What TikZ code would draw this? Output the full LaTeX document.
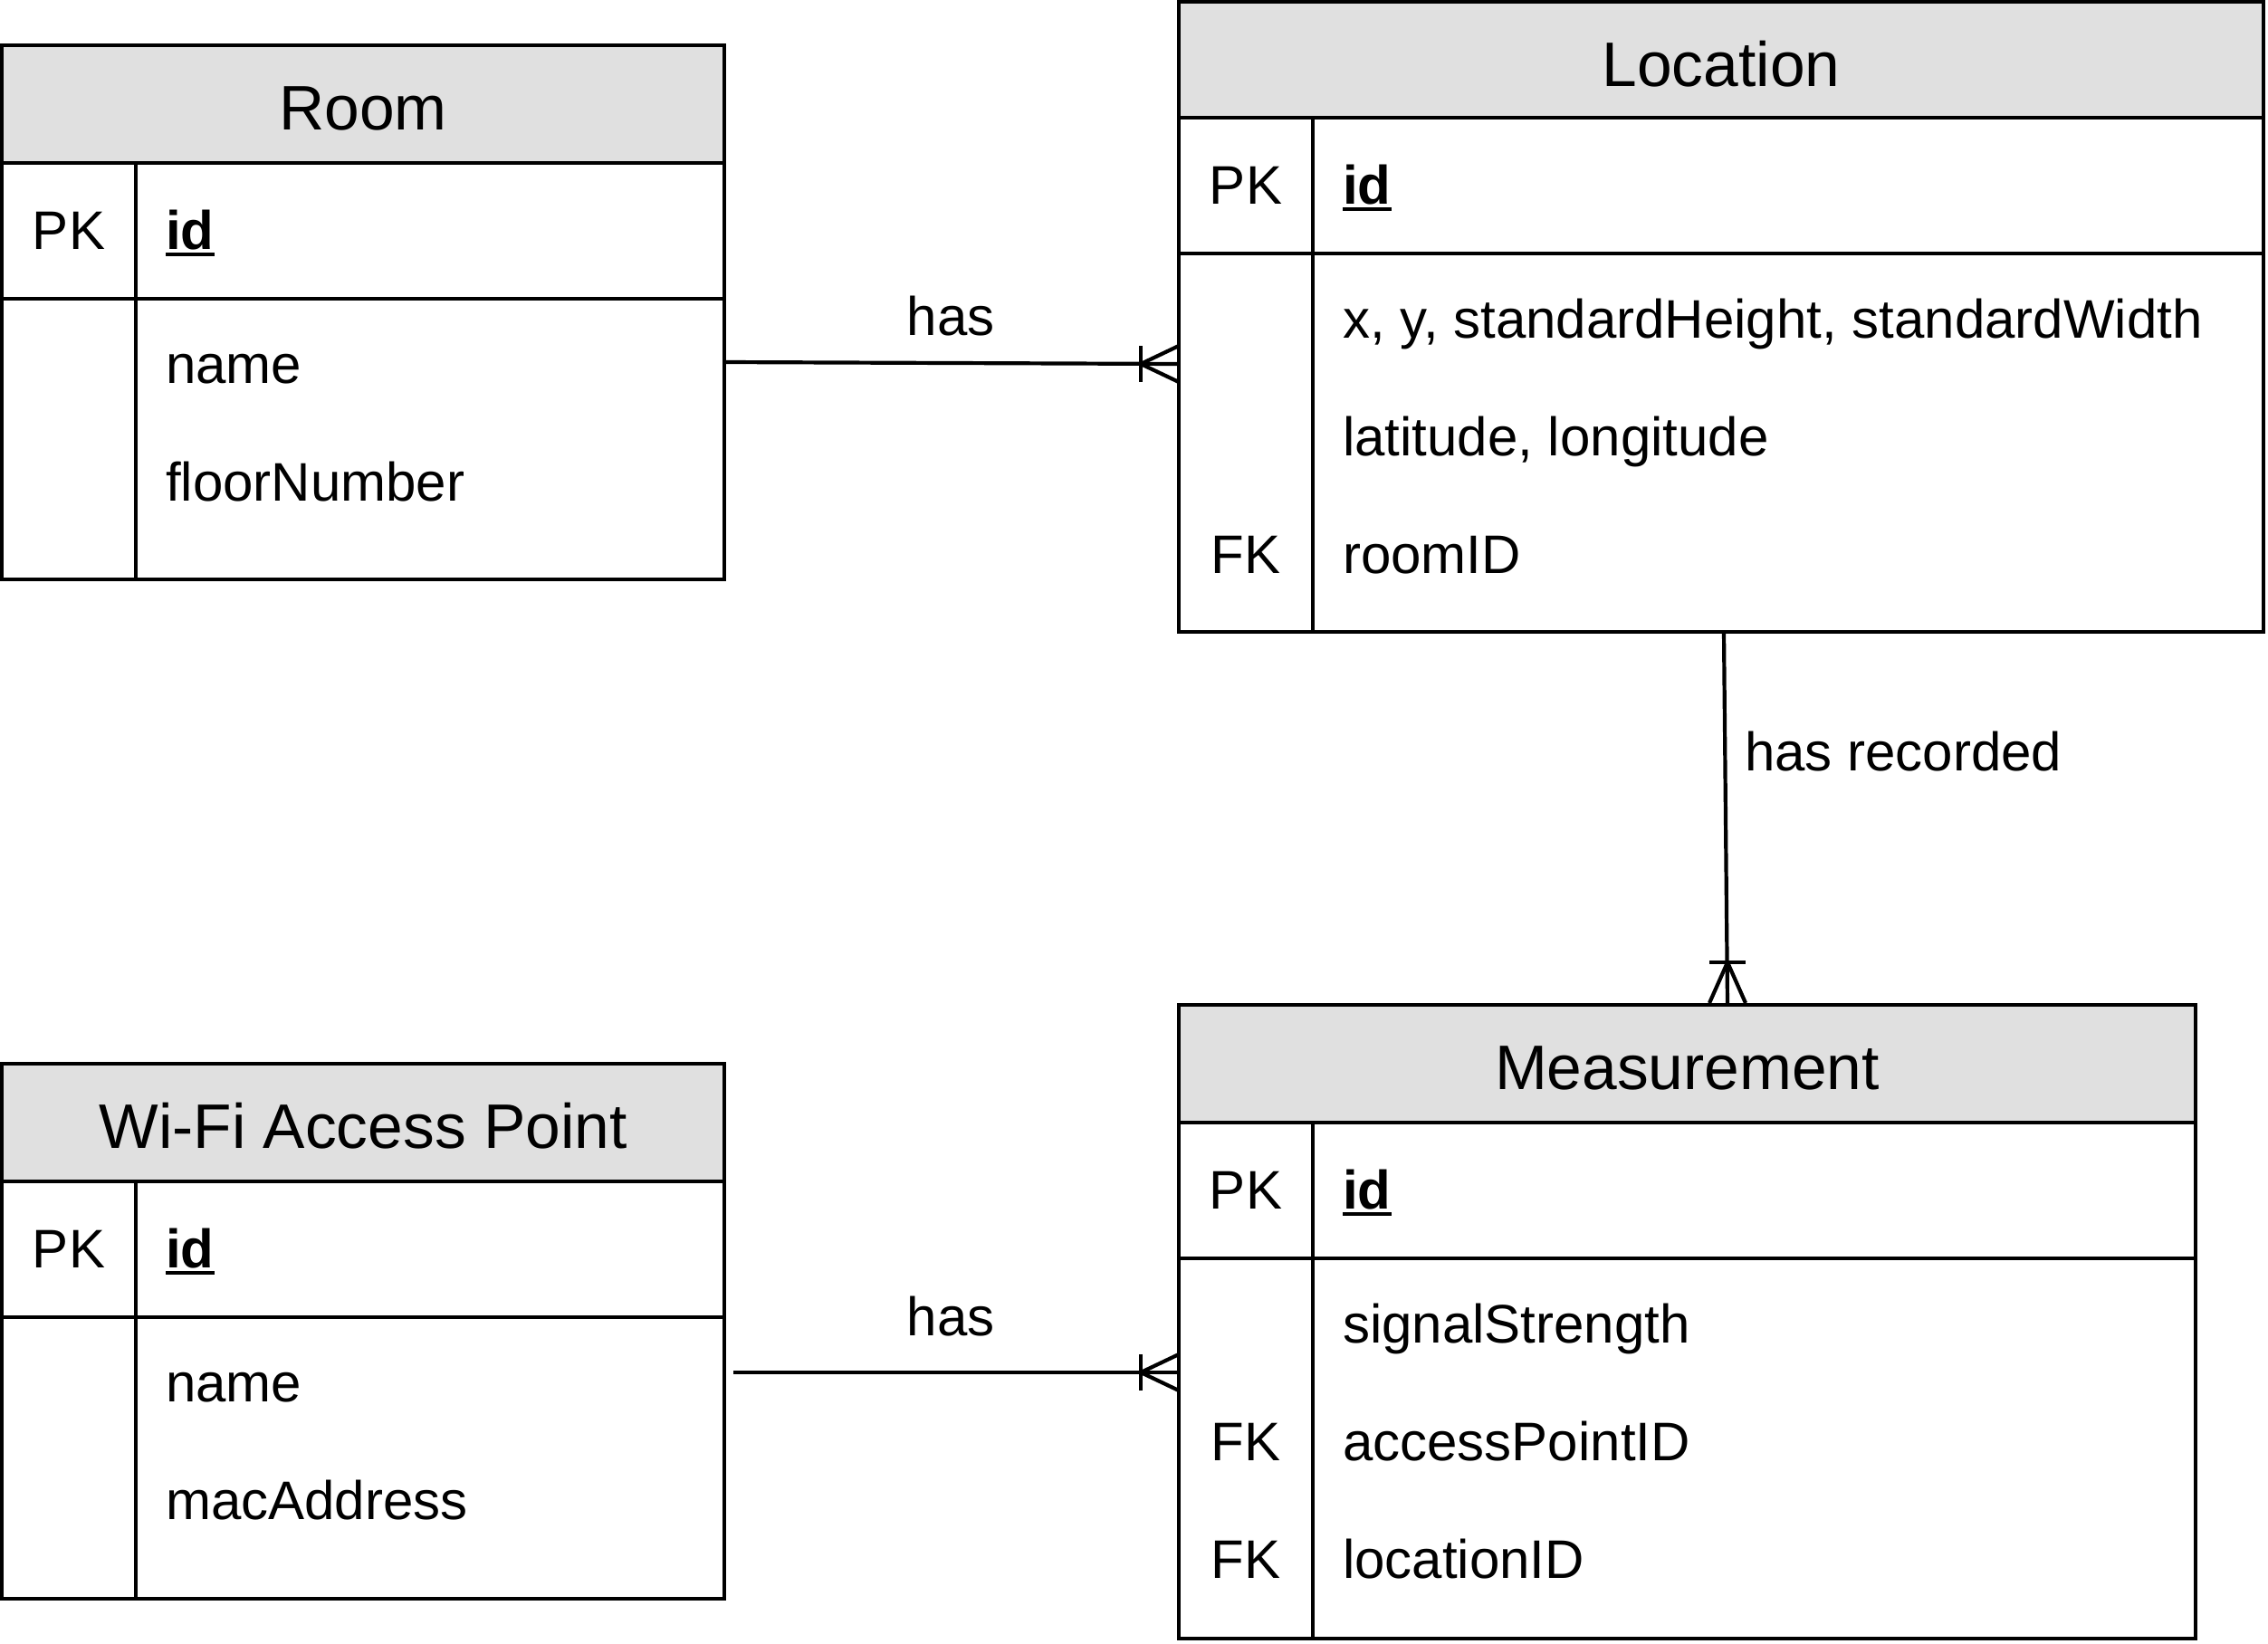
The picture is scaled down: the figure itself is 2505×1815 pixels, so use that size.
\documentclass[tikz,border=0pt]{standalone}
\usepackage{fontspec}
\setmainfont{Liberation Sans}
\usetikzlibrary{calc}
\definecolor{hdrgray}{RGB}{224,224,224}
\newcommand\hdrfont{\fontsize{69.5}{69.5}\selectfont}
\newcommand\bodyfont{\fontsize{60}{60}\selectfont}
\newcommand\lblfont{\fontsize{60}{60}\selectfont}
\newlength\keyattrwd
\newcommand\keyattr[1]{\settowidth\keyattrwd{\textbf{#1}}\textbf{#1}\llap{\rule[-7.5pt]{\keyattrwd}{3.3pt}}}
\begin{document}
\begin{tikzpicture}[x=1pt,y=-1pt,
  tbl/.style={draw, line width=4.2pt, inner sep=0pt, outer sep=0pt, anchor=north west},
  hdr/.style={tbl, fill=hdrgray},
  sep/.style={line width=4.2pt},
  ttl/.style={anchor=base, inner sep=0pt, font=\hdrfont},
  key/.style={anchor=base, inner sep=0pt, font=\bodyfont},
  att/.style={anchor=base west, inner sep=0pt, font=\bodyfont},
  lbl/.style={anchor=base, inner sep=0pt, font=\lblfont},
  conn/.style={line width=4.2pt}]
\useasboundingbox (0,0) rectangle (2505,1815);

% ---------- Room ----------
\node[hdr, minimum width=798pt, minimum height=130pt] (roomH) at (2,50) {};
\node[tbl, minimum width=798pt, minimum height=590pt] (room) at (2,50) {};
\draw[sep] (2,330) -- (800,330);
\draw[sep] (150,180) -- (150,640);
\node[ttl] (roomT) at (401,143) {Room};
\node[key] (roomPK) at (76,275) {PK};
\node[att] (roomId) at (183,275) {\keyattr{id}};
\node[att] (roomName) at (183,423) {name};
\node[att] (roomFloor) at (183,553) {floorNumber};

% ---------- Location ----------
\node[hdr, minimum width=1198pt, minimum height=128pt] (locH) at (1302,2) {};
\node[tbl, minimum width=1198pt, minimum height=696pt] (loc) at (1302,2) {};
\draw[sep] (1302,280) -- (2500,280);
\draw[sep] (1450,130) -- (1450,698);
\node[ttl] (locT) at (1901,95) {Location};
\node[key] (locPK) at (1376,225) {PK};
\node[att] (locId) at (1483,225) {\keyattr{id}};
\node[att] (locXY) at (1483,373) {x, y, standardHeight, standardWidth};
\node[att] (locLL) at (1483,503) {latitude, longitude};
\node[key] (locFK) at (1376,633) {FK};
\node[att] (locRoom) at (1483,633) {roomID};

% ---------- Measurement ----------
\node[hdr, minimum width=1123pt, minimum height=130pt] (measH) at (1302,1110) {};
\node[tbl, minimum width=1123pt, minimum height=700pt] (meas) at (1302,1110) {};
\draw[sep] (1302,1390) -- (2425,1390);
\draw[sep] (1450,1240) -- (1450,1810);
\node[ttl] (measT) at (1863.5,1203) {Measurement};
\node[key] (measPK) at (1376,1335) {PK};
\node[att] (measId) at (1483,1335) {\keyattr{id}};
\node[att] (measSig) at (1483,1483) {signalStrength};
\node[key] (measFK1) at (1376,1613) {FK};
\node[att] (measAP) at (1483,1613) {accessPointID};
\node[key] (measFK2) at (1376,1743) {FK};
\node[att] (measLoc) at (1483,1743) {locationID};

% ---------- Wi-Fi Access Point ----------
\node[hdr, minimum width=798pt, minimum height=130pt] (wifiH) at (2,1175) {};
\node[tbl, minimum width=798pt, minimum height=591pt] (wifi) at (2,1175) {};
\draw[sep] (2,1455) -- (800,1455);
\draw[sep] (150,1305) -- (150,1766);
\node[ttl] (wifiT) at (401,1268) {Wi-Fi Access Point};
\node[key] (wifiPK) at (76,1400) {PK};
\node[att] (wifiId) at (183,1400) {\keyattr{id}};
\node[att] (wifiName) at (183,1548) {name};
\node[att] (wifiMac) at (183,1678) {macAddress};

% ---------- connectors ----------
\coordinate (y1a) at (0,400);
\coordinate (y1b) at (0,402);
\coordinate (x2a) at (1904,0);
\coordinate (x2b) at (1908,0);
\coordinate (y3) at (0,1516);
\coordinate (w3) at ([xshift=10pt]wifi.east);

% Room -> Location
\draw[conn] (room.east |- y1a) -- (loc.west |- y1b) coordinate (e1);
\draw[conn] (e1) ++(-42,-20) -- ++(0,40);
\draw[conn] (e1) ++(0,-20) -- ++(-42,20);
\draw[conn] (e1) ++(0,20) -- ++(-42,-20);

% Location -> Measurement
\draw[conn] (x2a |- loc.south) -- (x2b |- meas.north) coordinate (e2);
\draw[conn] (e2) ++(-20,-47) -- ++(40,0);
\draw[conn] (e2) ++(-20,-2) -- ++(20,-45);
\draw[conn] (e2) ++(20,-2) -- ++(-20,-45);

% Wi-Fi -> Measurement
\draw[conn] (w3 |- y3) -- (meas.west |- y3) coordinate (e3);
\draw[conn] (e3) ++(-42,-20) -- ++(0,40);
\draw[conn] (e3) ++(0,-20) -- ++(-42,20);
\draw[conn] (e3) ++(0,20) -- ++(-42,-20);

% labels
\node[lbl] (l1) at (1050,370) {has};
\node[lbl, anchor=base west] (l2) at (1927,851) {has recorded};
\node[lbl] (l3) at (1050,1475) {has};
\end{tikzpicture}
\end{document}
